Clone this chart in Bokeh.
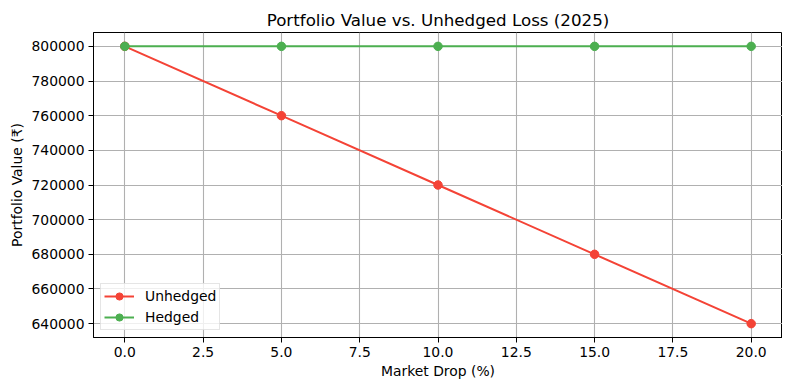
from bokeh.plotting import figure
from bokeh.models import FixedTicker, NumeralTickFormatter, Range1d
from bokeh.embed import file_html
from bokeh.resources import INLINE

market_drop = [0, 5, 10, 15, 20]
unhedged = [800000, 760000, 720000, 680000, 640000]
hedged = [800000, 800000, 800000, 800000, 800000]
x_ticks = [0, 2.5, 5, 7.5, 10, 12.5, 15, 17.5, 20]
y_ticks = [640000, 660000, 680000, 700000, 720000, 740000, 760000, 780000, 800000]

RED = "#F44336"
GREEN = "#4CAF50"
FONT = "DejaVu Sans"

p = figure(frame_width=689, frame_height=305, output_backend="svg", toolbar_location=None,
           title="Portfolio Value vs. Unhedged Loss (2025)",
           x_range=Range1d(-1, 21), y_range=Range1d(632000, 808000),
           min_border_left=93, min_border_right=0, min_border_top=32, min_border_bottom=44)

p.title.align = "center"
p.title.text_font = FONT
p.title.text_font_size = "16.7px"
p.title.text_font_style = "normal"
p.title.text_color = "#000000"
p.title.standoff = 6

p.line(market_drop, unhedged, color=RED, line_width=2, legend_label="Unhedged")
p.scatter(market_drop, unhedged, color=RED, size=8.5, legend_label="Unhedged")
p.line(market_drop, hedged, color=GREEN, line_width=2, legend_label="Hedged")
p.scatter(market_drop, hedged, color=GREEN, size=8.5, legend_label="Hedged")

p.xaxis.ticker = FixedTicker(ticks=x_ticks)
p.yaxis.ticker = FixedTicker(ticks=y_ticks)
p.xaxis.formatter = NumeralTickFormatter(format="0.0")
p.yaxis.formatter = NumeralTickFormatter(format="0")
p.xaxis.axis_label = "Market Drop (%)"
p.yaxis.axis_label = "Portfolio Value (₹)"

for ax in (p.xaxis, p.yaxis):
    ax.axis_label_text_font = FONT
    ax.axis_label_text_font_size = "13.9px"
    ax.axis_label_text_font_style = "normal"
    ax.axis_label_text_color = "#000000"
    ax.major_label_text_font = FONT
    ax.major_label_text_font_size = "13.9px"
    ax.major_label_text_color = "#000000"
    ax.axis_line_color = "#000000"
    ax.major_tick_line_color = "#000000"
    ax.major_tick_out = 5
    ax.major_tick_in = 0
    ax.minor_tick_line_color = None
    ax.major_label_standoff = 4
    ax.axis_label_standoff = 3

p.grid.grid_line_color = "#b0b0b0"
p.grid.grid_line_width = 1.1
p.outline_line_color = "#000000"
p.outline_line_width = 1

p.legend.location = "bottom_left"
p.legend.margin = 7
p.legend.padding = 3
p.legend.spacing = 3
p.legend.glyph_height = 18
p.legend.label_height = 18
p.legend.label_standoff = 11
p.legend.label_text_font = FONT
p.legend.label_text_font_size = "13.9px"
p.legend.label_text_color = "#000000"
p.legend.border_line_color = "#cccccc"
p.legend.background_fill_alpha = 0.8
p.legend.glyph_width = 30

open("out.html", "w").write(file_html(p, INLINE))
